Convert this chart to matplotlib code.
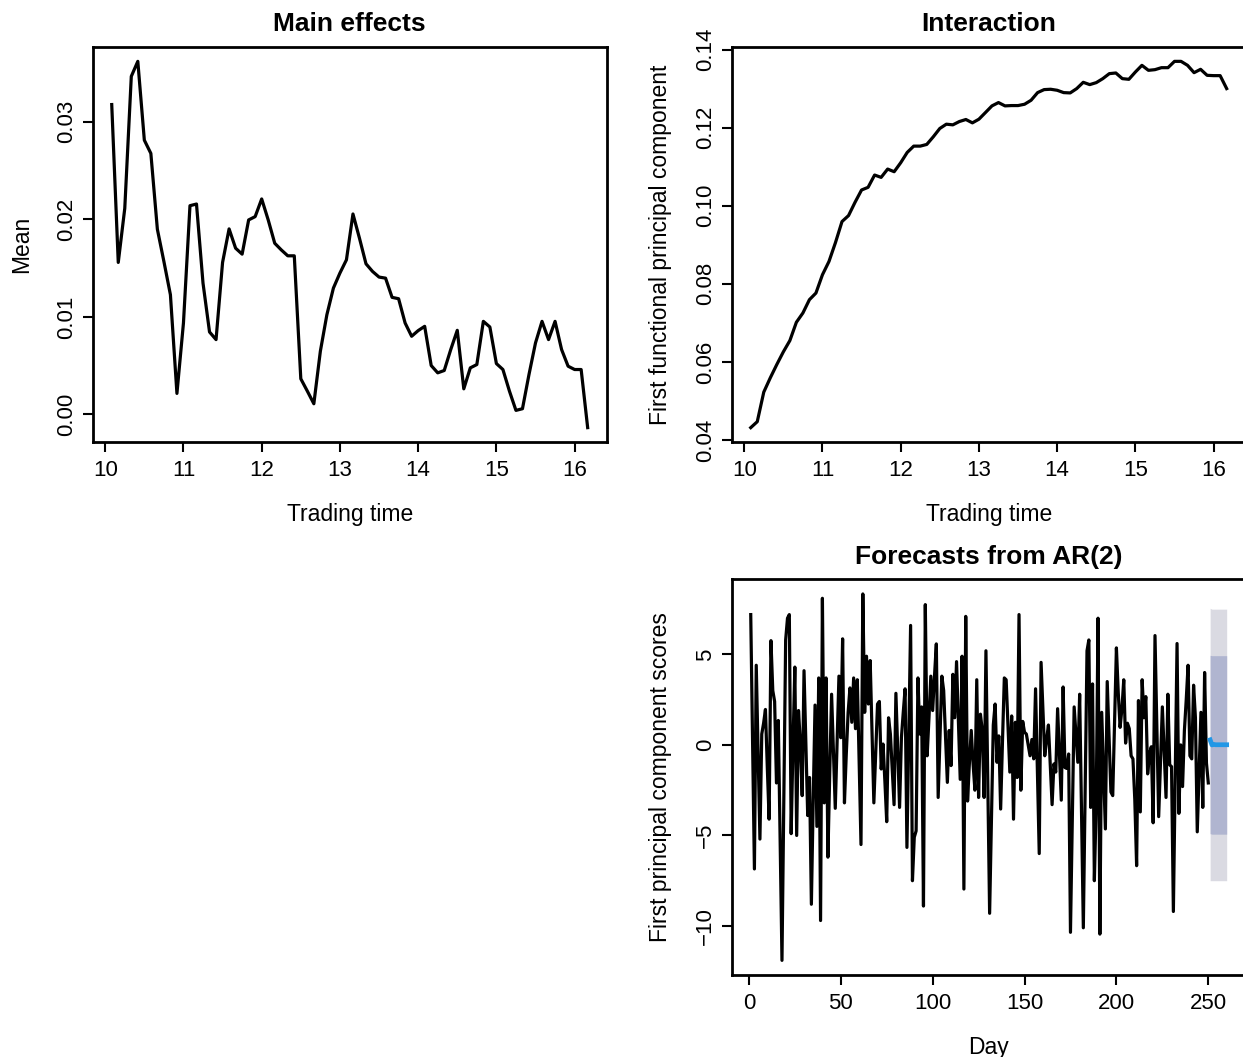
import numpy as np
import matplotlib
matplotlib.use("Agg")
import matplotlib.pyplot as plt

plt.rcParams['font.family'] = ['Liberation Sans', 'DejaVu Sans']

# ---------------- data ----------------
main_mean = [0.03177, 0.01558, 0.02113, 0.03466, 0.03620, 0.02812, 0.02676, 0.01898, 0.01568, 0.01227,
             0.00215, 0.00937, 0.02140, 0.02157, 0.01346, 0.00845, 0.00767, 0.01558, 0.01902, 0.01704,
             0.01643, 0.01994, 0.02028, 0.02209, 0.01994, 0.01755, 0.01687, 0.01626, 0.01626, 0.00365,
             0.00239, 0.00109, 0.00648, 0.01022, 0.01295, 0.01449, 0.01585, 0.02055, 0.01806, 0.01544,
             0.01466, 0.01408, 0.01397, 0.01200, 0.01186, 0.00937, 0.00801, 0.00859, 0.00903, 0.00501,
             0.00426, 0.00450, 0.00665, 0.00862, 0.00262, 0.00477, 0.00511, 0.00954, 0.00896, 0.00521,
             0.00460, 0.00239, 0.00041, 0.00058, 0.00409, 0.00733, 0.00954, 0.00767, 0.00954, 0.00665,
             0.00494, 0.00460, 0.00460, -0.00136]

pc1 = [0.04315, 0.04468, 0.05226, 0.05592, 0.05933, 0.06257, 0.06546, 0.07015, 0.07253, 0.07594,
       0.07764, 0.08233, 0.08573, 0.09059, 0.09596, 0.09749, 0.10090, 0.10405, 0.10473, 0.10788,
       0.10728, 0.10941, 0.10873, 0.11103, 0.11367, 0.11529, 0.11529, 0.11572, 0.11768, 0.11981,
       0.12091, 0.12074, 0.12159, 0.12211, 0.12125, 0.12219, 0.12389, 0.12560, 0.12645, 0.12560,
       0.12568, 0.12568, 0.12602, 0.12704, 0.12900, 0.12977, 0.12986, 0.12960, 0.12900, 0.12892,
       0.13003, 0.13164, 0.13105, 0.13156, 0.13258, 0.13386, 0.13403, 0.13258, 0.13241, 0.13428,
       0.13599, 0.13471, 0.13488, 0.13539, 0.13539, 0.13701, 0.13701, 0.13599, 0.13411, 0.13497,
       0.13343, 0.13335, 0.13335, 0.13003]

# trading time: 5-minute grid from 10:05 to 16:10 (decimal hours)
trading_time = 10 + (np.arange(len(main_mean)) + 1) * 5 / 60

scores = [7.2, 0.2, -6.85, 4.4, -0.4, -5.2, 0.6, 1.2, 1.96, -1.2,
          -4.1, 5.76, 3.0, 2.4, -2.1, 1.35, -5.3, -11.9, -3.0, 5.8,
          7.0, 7.2, -4.9, 0.0, 4.3, -5.0, 1.9, 0.1, -2.8, 4.1,
          0.0, -3.9, -1.8, -8.8, -3.0, 2.2, -4.5, 3.7, -9.7, 8.1,
          -3.2, 3.7, -6.2, -1.5, 2.8, -0.3, -3.5, 0.2, 3.8, 0.4,
          5.86, -3.2, -0.5, 1.8, 3.15, 1.25, 3.7, 0.9, 3.6, -1.0,
          -5.5, 8.34, 1.8, 4.9, 2.26, 4.66, 0.7, -3.2, -0.5, 2.26,
          2.4, -1.33, 0.05, -2.0, -4.24, 1.5, 0.6, -1.4, -3.3, 2.85,
          -0.3, -3.45, 0.4, 1.8, 3.1, -5.66, 0.5, 6.6, -7.5, -5.1,
          -4.75, 3.7, 0.6, 2.1, -8.9, 7.75, -0.6, 1.5, 3.8, 1.9,
          3.8, 5.58, -2.9, 0.5, 3.8, 3.0, 0.5, -2.07, 0.8, -1.14,
          3.9, 1.5, 4.6, 1.3, -1.9, 4.9, -7.96, 7.1, -3.1, -1.0,
          0.8, -1.05, -2.5, 3.6, -2.9, 1.7, 0.8, -2.9, 5.2, -2.0,
          -9.3, -4.0, 1.1, 2.26, -0.96, 0.5, -3.54, 0.2, 3.7, 3.6,
          1.0, -1.5, 1.6, -4.1, 1.25, -1.8, 7.2, -2.5, 1.3, 0.7,
          0.6, 0.0, -0.6, 0.3, -0.77, 3.1, -1.5, -6.0, 4.56, 2.0,
          -0.6, 0.3, 1.1, -1.1, -3.3, -1.05, -1.5, 2.0, -0.5, -3.05,
          3.2, -1.25, -1.3, -0.5, -10.35, -4.0, 2.1, 0.6, -0.96, 2.8,
          -3.6, -10.1, -2.4, 5.2, 5.8, -3.45, 3.37, -7.5, -3.3, 7.0,
          -10.45, 1.8, -1.4, -4.64, 3.5, 0.4, -2.6, -2.8, 1.3, 5.36,
          2.9, 0.97, 2.0, 3.6, 0.1, 1.2, 0.9, -0.6, -0.77, -3.0,
          -6.67, 2.45, -3.7, 3.6, 1.5, 2.67, -1.6, -0.5, -0.1, -4.3,
          6.04, 1.0, -3.96, -0.9, 2.1, -0.4, -2.9, 2.8, -1.1, -1.2,
          -9.2, -1.8, 5.6, -3.78, 0.0, -2.3, 0.8, 2.5, 4.4, -0.6,
          -0.77, 3.3, 1.5, -4.8, -1.5, 1.8, -3.45, 4.0, -1.0, -2.1]
days = np.arange(1, len(scores) + 1)

fc_mean = [0.28, 0.0, 0.03, 0.01, 0.01, 0.01, 0.01, 0.01, 0.01, 0.01]
fc_lo80 = [-4.9, -4.93, -4.93, -4.93, -4.93, -4.93, -4.93, -4.93, -4.93, -4.93]
fc_hi80 = [4.95, 4.93, 4.93, 4.93, 4.93, 4.93, 4.93, 4.93, 4.93, 4.93]
fc_lo95 = [-7.5, -7.5, -7.5, -7.5, -7.5, -7.5, -7.5, -7.5, -7.5, -7.5]
fc_hi95 = [7.55, 7.5, 7.5, 7.5, 7.5, 7.5, 7.5, 7.5, 7.5, 7.5]
fc_days = np.arange(len(scores) + 1, len(scores) + 1 + len(fc_mean))

# ---------------- layout ----------------
W, H = 1243, 1057
fig = plt.figure(figsize=(W / 100, H / 100), dpi=100)
fig.patch.set_facecolor('white')

TICK_FS = 16
LAB_FS = 16.5
TITLE_FS = 19
LW = 2.3


def add_ax(left, top, right, bottom):
    return fig.add_axes([left / W, 1 - bottom / H, (right - left) / W, (bottom - top) / H])


def style(ax, w_px, h_px, xlabel, ylabel, title):
    for s in ax.spines.values():
        s.set_linewidth(2.0)
        s.set_color('black')
    ax.tick_params(axis='both', direction='out', length=7.2, width=1.5,
                   labelsize=TICK_FS, colors='black')
    ax.tick_params(axis='x', pad=13)
    ax.tick_params(axis='y', pad=11.5, labelrotation=90)
    for lab in ax.get_xticklabels():
        lab.set_va('center')
    for lab in ax.get_yticklabels():
        lab.set_ha('center')
        lab.set_va('center')
    ax.set_xlabel(xlabel, fontsize=LAB_FS)
    ax.set_ylabel(ylabel, fontsize=LAB_FS)
    ax.xaxis.set_label_coords(0.5, -72 / h_px)
    ax.xaxis.label.set_va('center')
    ax.yaxis.set_label_coords(-71 / w_px, 0.5)
    ax.yaxis.label.set_va('center')
    ax.set_title(title, fontsize=TITLE_FS, fontweight='bold', pad=11)


# Main effects
ax1 = add_ax(92.7, 46.7, 606.7, 442.3)
ax1.plot(trading_time, main_mean, color='black', lw=LW)
ax1.margins(x=0.04, y=0.04)
ax1.set_xticks(range(10, 17))
ax1.set_yticks([0.0, 0.01, 0.02, 0.03])
ax1.set_yticklabels(['0.00', '0.01', '0.02', '0.03'])
style(ax1, 514, 395.6, 'Trading time', 'Mean', 'Main effects')

# Interaction
ax2 = add_ax(731.7, 46.7, 1245.7, 442.3)
ax2.plot(trading_time, pc1, color='black', lw=LW)
ax2.margins(x=0.04, y=0.04)
ax2.set_xticks(range(10, 17))
yt = [0.04, 0.06, 0.08, 0.10, 0.12, 0.14]
ax2.set_yticks(yt)
ax2.set_yticklabels([f'{v:.2f}' for v in yt])
style(ax2, 514, 395.6, 'Trading time', 'First functional principal component', 'Interaction')

# Forecasts
ax3 = add_ax(731.7, 579.3, 1245.7, 975.0)
ax3.fill_between(fc_days, fc_lo95, fc_hi95, color='#DADAE2', lw=0)
ax3.fill_between(fc_days, fc_lo80, fc_hi80, color='#B0B5D0', lw=0)
ax3.plot(days, scores, color='black', lw=LW)
ax3.plot(fc_days, fc_mean, color='#2297E6', lw=3.4)
ax3.margins(x=0.04, y=0.04)
ax3.set_xticks(range(0, 251, 50))
ax3.set_yticks([-10, -5, 0, 5])
style(ax3, 514, 395.6, 'Day', 'First principal component scores', 'Forecasts from AR(2)')

fig.savefig('out.png', dpi=100, facecolor='white')
